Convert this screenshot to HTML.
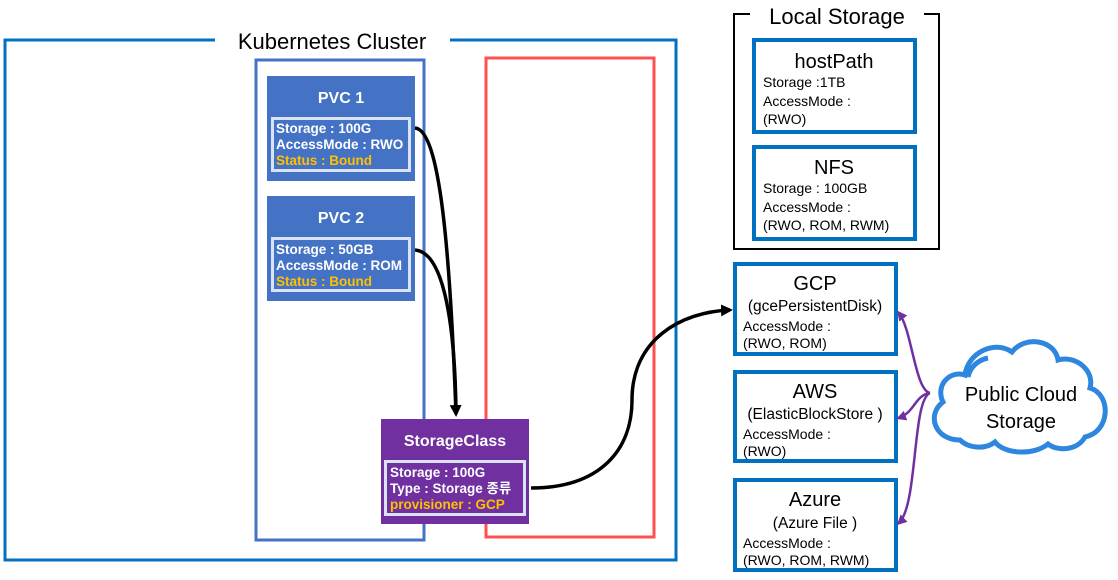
<!DOCTYPE html>
<html><head><meta charset="utf-8"><style>
html,body{margin:0;padding:0;background:#fff;}
svg{display:block;font-family:"Liberation Sans","Noto Sans CJK KR",sans-serif;}
.w{fill:#fff;font-weight:bold;font-size:13.5px;}
.y{fill:#FFC000;font-weight:bold;font-size:13.5px;}
.t{fill:#000;font-size:14px;}
</style></head><body>
<svg width="1118" height="580" viewBox="0 0 1118 580">
<defs>
<marker id="ab" markerWidth="12" markerHeight="12" refX="9" refY="6" orient="auto" markerUnits="userSpaceOnUse"><path d="M0,0 L12,6 L0,12 z" fill="#000"/></marker>
<marker id="ap" markerWidth="10" markerHeight="10" refX="7" refY="5" orient="auto" markerUnits="userSpaceOnUse"><path d="M0,0 L10,5 L0,10 z" fill="#7030A0"/></marker>
</defs>
<rect x="5" y="40" width="671" height="520" fill="none" stroke="#0070C0" stroke-width="3"/>
<rect x="215" y="30" width="235" height="20" fill="#fff"/>
<text x="332" y="49" font-size="22" text-anchor="middle">Kubernetes Cluster</text>
<rect x="256" y="60" width="168" height="480" fill="none" stroke="#4472C4" stroke-width="3"/>
<rect x="486" y="58" width="168" height="479" fill="none" stroke="#FF5050" stroke-width="3"/>
<rect x="267" y="76" width="148" height="105" fill="#4472C4"/>
<text x="341" y="103" class="w" text-anchor="middle" style="font-size:16px">PVC 1</text>
<rect x="272.5" y="118.5" width="137" height="52" fill="none" stroke="#DAE3F3" stroke-width="3"/>
<text x="276" y="133" class="w">Storage : 100G</text>
<text x="276" y="149" class="w">AccessMode : RWO</text>
<text x="276" y="165" class="y">Status : Bound</text>
<rect x="267" y="196" width="148" height="105" fill="#4472C4"/>
<text x="341" y="223" class="w" text-anchor="middle" style="font-size:16px">PVC 2</text>
<rect x="272.5" y="238.5" width="137" height="52" fill="none" stroke="#DAE3F3" stroke-width="3"/>
<text x="276" y="254" class="w">Storage : 50GB</text>
<text x="276" y="270" class="w">AccessMode : ROM</text>
<text x="276" y="286" class="y">Status : Bound</text>
<rect x="381" y="419" width="148" height="105" fill="#7030A0"/>
<text x="455" y="446" class="w" text-anchor="middle" style="font-size:16px">StorageClass</text>
<rect x="385.5" y="461.5" width="139" height="53" fill="none" stroke="#DAE3F3" stroke-width="3"/>
<text x="390" y="477" class="w">Storage : 100G</text>
<text x="390" y="493" class="w">Type : Storage 종류</text>
<text x="390" y="509" class="y">provisioner : GCP</text>
<path d="M415,128 C440,130 450,250 456,414" fill="none" stroke="#000" stroke-width="3.5" marker-end="url(#ab)"/>
<path d="M415,250 C445,252 455,330 456,412" fill="none" stroke="#000" stroke-width="3.5"/>
<path d="M531,488 C600,488 632,450 632,400 C632,340 680,312 730,310" fill="none" stroke="#000" stroke-width="3.5" marker-end="url(#ab)"/>
<rect x="734" y="14" width="205" height="235" fill="none" stroke="#000" stroke-width="2"/>
<rect x="750" y="4" width="174" height="20" fill="#fff"/>
<text x="837" y="24" font-size="22" text-anchor="middle">Local Storage</text>
<rect x="754" y="40" width="161" height="92" fill="none" stroke="#0070C0" stroke-width="4"/>
<text x="834" y="68" font-size="20" text-anchor="middle">hostPath</text>
<text x="763" y="87" class="t">Storage :1TB</text>
<text x="763" y="106" class="t">AccessMode :</text>
<text x="763" y="124" class="t">(RWO)</text>
<rect x="754" y="147" width="161" height="92" fill="none" stroke="#0070C0" stroke-width="4"/>
<text x="834" y="174" font-size="20" text-anchor="middle">NFS</text>
<text x="763" y="193" class="t">Storage : 100GB</text>
<text x="763" y="212" class="t">AccessMode :</text>
<text x="763" y="230" class="t">(RWO, ROM, RWM)</text>
<rect x="735" y="264" width="161" height="90" fill="none" stroke="#0070C0" stroke-width="4"/>
<text x="815" y="290" font-size="20" text-anchor="middle">GCP</text>
<text x="815" y="311" font-size="15.5" text-anchor="middle">(gcePersistentDisk)</text>
<text x="743" y="331" class="t">AccessMode :</text>
<text x="743" y="348" class="t">(RWO, ROM)</text>
<rect x="735" y="372" width="161" height="89" fill="none" stroke="#0070C0" stroke-width="4"/>
<text x="815" y="398" font-size="20" text-anchor="middle">AWS</text>
<text x="815" y="419" font-size="15.5" text-anchor="middle">(ElasticBlockStore )</text>
<text x="743" y="439" class="t">AccessMode :</text>
<text x="743" y="456" class="t">(RWO)</text>
<rect x="735" y="480" width="161" height="90" fill="none" stroke="#0070C0" stroke-width="4"/>
<text x="815" y="506" font-size="20" text-anchor="middle">Azure</text>
<text x="815" y="528" font-size="15.5" text-anchor="middle">(Azure File )</text>
<text x="743" y="548" class="t">AccessMode :</text>
<text x="743" y="565" class="t">(RWO, ROM, RWM)</text>
<path d="M960,440 C935,440 926,415 943,402 C935,385 950,370 965,375 C968,352 995,340 1012,352 C1025,335 1055,340 1058,360 C1075,355 1095,370 1090,388 C1112,395 1110,432 1085,437 C1078,450 1058,452 1048,444 C1035,455 1005,455 995,442 C985,450 968,448 960,440 Z" fill="#fff" stroke="#2E86DE" stroke-width="5"/>
<path d="M968,377 C970,367 978,360 988,358" fill="none" stroke="#2E86DE" stroke-width="5"/>
<text x="1021" y="401" font-size="20" text-anchor="middle">Public Cloud</text>
<text x="1021" y="428" font-size="20" text-anchor="middle">Storage</text>
<path d="M930,393 C915,390 912,330 899,313" fill="none" stroke="#7030A0" stroke-width="2.5" marker-end="url(#ap)"/>
<path d="M930,393 C915,395 915,412 899,418" fill="none" stroke="#7030A0" stroke-width="2.5" marker-end="url(#ap)"/>
<path d="M930,393 C912,400 918,505 899,523" fill="none" stroke="#7030A0" stroke-width="2.5" marker-end="url(#ap)"/>
</svg>
</body></html>
